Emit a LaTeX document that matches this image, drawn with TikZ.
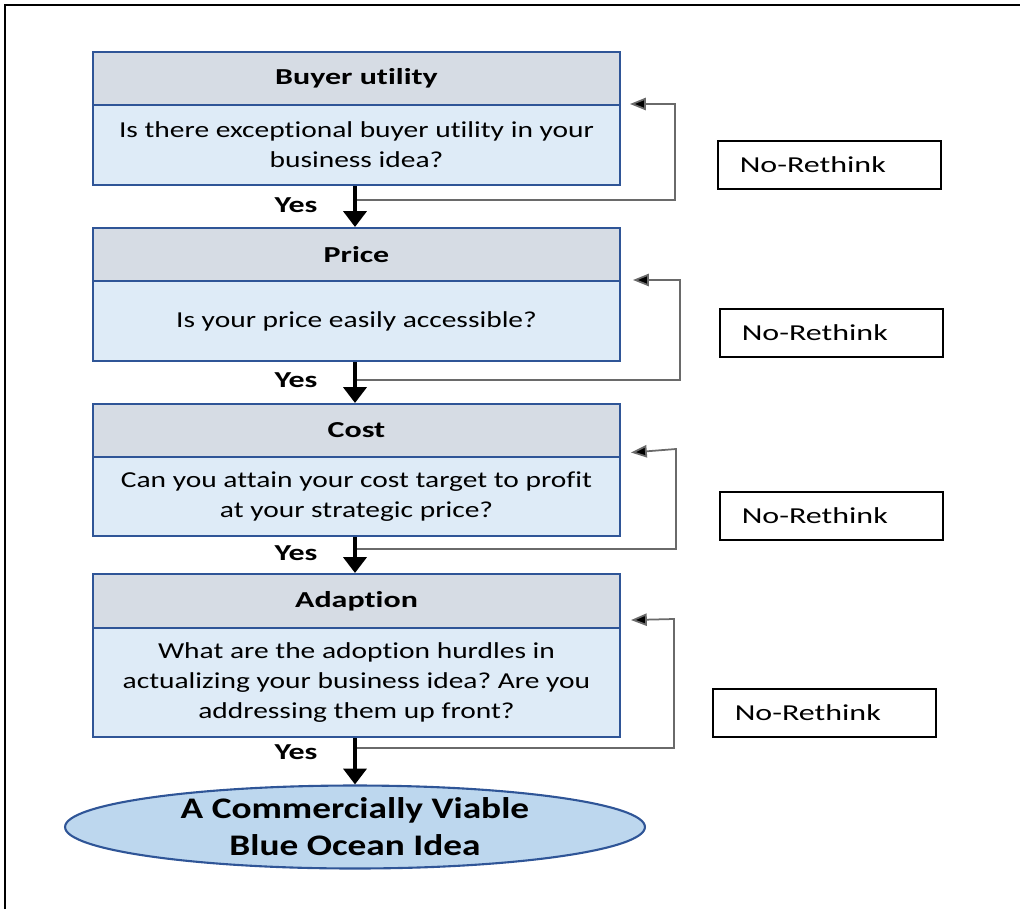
\documentclass[tikz,border=0pt]{standalone}
\usepackage{fontspec}
\setmainfont{Carlito}[Ligatures=NoCommon]
\newfontfamily\widefont{Carlito}[FakeStretch=1.4,Ligatures=NoCommon]
\newfontfamily\bodyfont{Carlito}[FakeStretch=1.29,Ligatures=NoCommon]
\newfontfamily\ovalfont{Carlito}[FakeStretch=1.25,Ligatures=NoCommon]
\usetikzlibrary{arrows.meta,calc,shapes.geometric}
\definecolor{hdrfill}{HTML}{D6DCE4}
\definecolor{bodyfill}{HTML}{DEEBF7}
\definecolor{edge}{HTML}{2F5597}
\definecolor{ovalfill}{HTML}{BDD7EE}
\definecolor{fbline}{HTML}{6A6A6A}
\frenchspacing
\begin{document}
\begin{tikzpicture}[x=0.02cm,y=-0.02cm,
  hdr/.style={draw=edge,line width=1.2pt,fill=hdrfill,minimum width=10.54cm,
    anchor=north west,inner sep=0pt,font=\widefont\fontsize{13}{17}\selectfont\bfseries},
  qbody/.style={draw=edge,line width=1.2pt,fill=bodyfill,minimum width=10.54cm,
    anchor=north west,inner sep=0pt,align=center,font=\bodyfont\fontsize{13}{17}\selectfont},
  rethink/.style={draw=black,line width=0.9pt,text width=3.58cm,align=left,
    minimum height=0.96cm,anchor=north west,inner xsep=0.44cm,inner ysep=0pt,
    font=\widefont\fontsize{13}{17}\selectfont},
  yesarrow/.style={line width=2.8pt,-{Triangle[width=13pt,length=9pt]}},
  fb/.style={draw=fbline,line width=1pt,-{Triangle[width=7pt,length=9pt,fill=black]}},
  yes/.style={font=\widefont\fontsize{13}{17}\selectfont\bfseries}]
\useasboundingbox (0,0) rectangle (1020,909);
% outer frame
\draw[line width=1.7pt] (5,909) -- (5,5) -- (1020,5);

% question boxes
\node[hdr,minimum height=1.06cm] (h1) at (92,51) {Buyer utility};
\node[qbody,minimum height=1.6cm] (q1) at (92,104) {Is there exceptional buyer utility in your\\ business idea?};
\node[hdr,minimum height=1.06cm] (h2) at (92,227) {Price};
\node[qbody,minimum height=1.6cm] (q2) at (92,280) {Is your price easily accessible?};
\node[hdr,minimum height=1.06cm] (h3) at (92,403) {Cost};
\node[qbody,minimum height=1.58cm] (q3) at (92,456) {Can you attain your cost target to profit\\ at your strategic price?};
\node[hdr,minimum height=1.08cm] (h4) at (92,573) {Adaption};
\node[qbody,minimum height=2.18cm] (q4) at (92,627) {What are the adoption hurdles in\\ actualizing your business idea? Are you\\ addressing them up front?};

% final outcome
\node[ellipse,draw=edge,line width=1.2pt,fill=ovalfill,minimum width=11.6cm,minimum height=1.66cm,
  inner sep=0pt,align=center,font=\ovalfont\fontsize{17}{21}\selectfont\bfseries] (goal) at (355,827)
  {A Commercially Viable\\ Blue Ocean Idea};

% rethink boxes
\node[rethink] (r1) at (717,140) {No-Rethink};
\node[rethink] (r2) at (719,308) {No-Rethink};
\node[rethink] (r3) at (719,491) {No-Rethink};
\node[rethink] (r4) at (712,688) {No-Rethink};

% yes arrows
\draw[yesarrow] (q1.south -| 355,0) -- (h2.north -| 355,0);
\draw[yesarrow] (q2.south -| 355,0) -- (h3.north -| 355,0);
\draw[yesarrow] (q3.south -| 355,0) -- (h4.north -| 355,0);
\draw[yesarrow] (q4.south -| 355,0) -- (goal.north);
\node[yes] (y1) at (296,205) {Yes};
\node[yes] (y2) at (296,380) {Yes};
\node[yes] (y3) at (296,553) {Yes};
\node[yes] (y4) at (296,752) {Yes};

% feedback loops
\coordinate (f1) at (357,200);
\coordinate (f2) at (357,380);
\coordinate (f3) at (357,549);
\coordinate (f4) at (357,748);
\draw[fb] (f1) -- (675,200) -- (675,104) -- ($(q1.north east)+(9,0)$);
\draw[fb] (f2) -- (680,380) -- (680,280) -- ($(q2.north east)+(12,0)$);
\draw[fb] (f3) -- (676,549) -- (676,449) -- ($(h3.east)+(10,22)$);
\draw[fb] (f4) -- (674,748) -- (674,619) -- ($(h4.east)+(10,19)$);
\end{tikzpicture}
\end{document}
